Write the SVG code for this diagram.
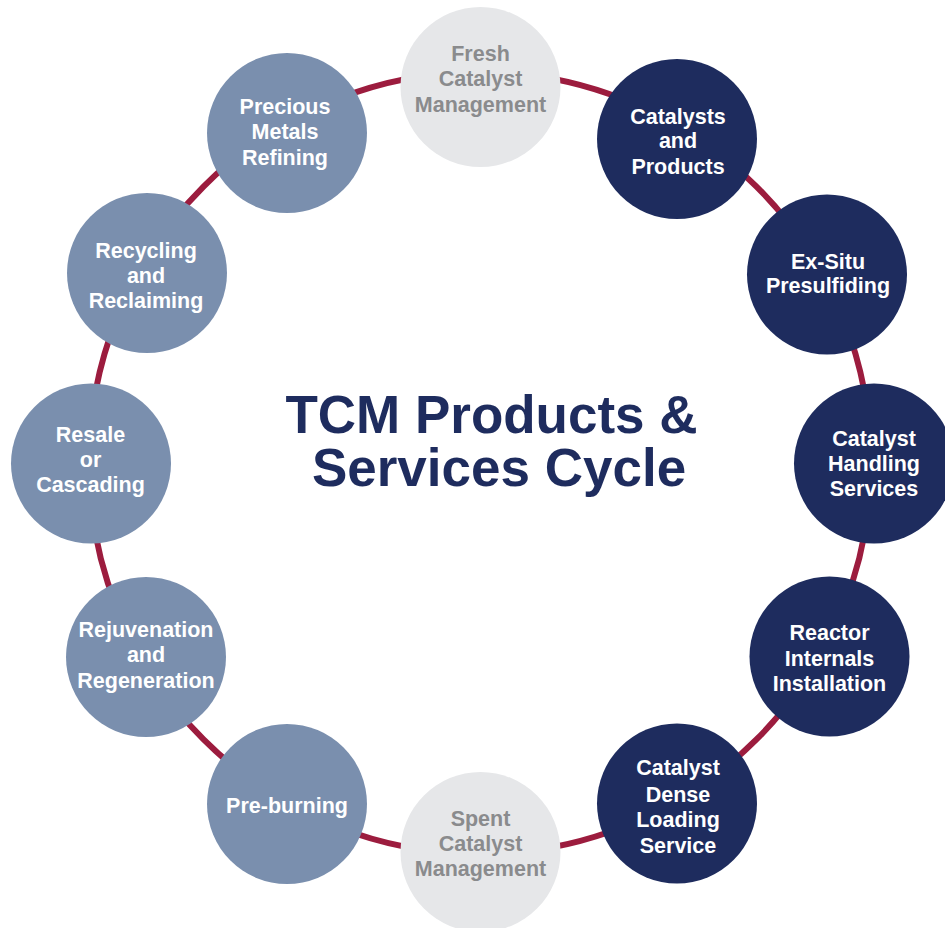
<svg xmlns="http://www.w3.org/2000/svg" width="945" height="928" viewBox="0 0 945 928">
<style>
.navy{fill:#1e2c5e}
.steel{fill:#7a8fae}
.pale{fill:#e6e7e9}
.lbl{font-family:"Liberation Sans",Arial,sans-serif;font-weight:bold;font-size:21.5px;text-anchor:middle;fill:#ffffff}
.lbl.grey{fill:#8a8b8d}
.title{font-family:"Liberation Sans",Arial,sans-serif;font-weight:bold;font-size:53px;text-anchor:middle;fill:#1e2c5e}
.ring{fill:none;stroke:#9c1c3e;stroke-width:6}
</style>
<rect width="945" height="928" fill="#ffffff"/>
<g id="connectors">
<circle class="ring" cx="480" cy="463" r="391"/>
</g>
<g id="fresh">
<circle class="pale" cx="480.5" cy="87" r="80"/>
<text class="lbl grey" x="480.5" y="61">Fresh</text>
<text class="lbl grey" x="480.5" y="86">Catalyst</text>
<text class="lbl grey" x="480.5" y="111.5">Management</text>
</g>
<g id="catalysts-products">
<circle class="navy" cx="677" cy="139" r="80"/>
<text class="lbl" x="678" y="123.5">Catalysts</text>
<text class="lbl" x="678" y="148">and</text>
<text class="lbl" x="678" y="173.5">Products</text>
</g>
<g id="ex-situ">
<circle class="navy" cx="827" cy="274.5" r="80"/>
<text class="lbl" x="828" y="268.5">Ex-Situ</text>
<text class="lbl" x="828" y="293">Presulfiding</text>
</g>
<g id="handling">
<circle class="navy" cx="874" cy="463.5" r="80"/>
<text class="lbl" x="874" y="446">Catalyst</text>
<text class="lbl" x="874" y="470.5">Handling</text>
<text class="lbl" x="874" y="496">Services</text>
</g>
<g id="reactor">
<circle class="navy" cx="829.5" cy="656.5" r="80"/>
<text class="lbl" x="829.5" y="640">Reactor</text>
<text class="lbl" x="829.5" y="666">Internals</text>
<text class="lbl" x="829.5" y="691">Installation</text>
</g>
<g id="dense-loading">
<circle class="navy" cx="677" cy="803.5" r="80"/>
<text class="lbl" x="678" y="775">Catalyst</text>
<text class="lbl" x="678" y="801.5">Dense</text>
<text class="lbl" x="678" y="826.5">Loading</text>
<text class="lbl" x="678" y="852.5">Service</text>
</g>
<g id="spent">
<circle class="pale" cx="480.5" cy="852" r="80"/>
<text class="lbl grey" x="480.5" y="826">Spent</text>
<text class="lbl grey" x="480.5" y="850.5">Catalyst</text>
<text class="lbl grey" x="480.5" y="876">Management</text>
</g>
<g id="pre-burning">
<circle class="steel" cx="287" cy="804" r="80"/>
<text class="lbl" x="287" y="812.5">Pre-burning</text>
</g>
<g id="rejuvenation">
<circle class="steel" cx="146" cy="657" r="80"/>
<text class="lbl" x="146" y="636.5">Rejuvenation</text>
<text class="lbl" x="146" y="661.5">and</text>
<text class="lbl" x="146" y="687.5">Regeneration</text>
</g>
<g id="resale">
<circle class="steel" cx="91" cy="463.5" r="80"/>
<text class="lbl" x="90.5" y="442">Resale</text>
<text class="lbl" x="90.5" y="467">or</text>
<text class="lbl" x="90.5" y="492">Cascading</text>
</g>
<g id="recycling">
<circle class="steel" cx="147" cy="273" r="80"/>
<text class="lbl" x="146" y="258">Recycling</text>
<text class="lbl" x="146" y="282.5">and</text>
<text class="lbl" x="146" y="308">Reclaiming</text>
</g>
<g id="precious">
<circle class="steel" cx="287" cy="133" r="80"/>
<text class="lbl" x="285" y="114">Precious</text>
<text class="lbl" x="285" y="139">Metals</text>
<text class="lbl" x="285" y="165">Refining</text>
</g>
<g id="title">
<text class="title"><tspan x="491.5" y="433">TCM Products &amp;</tspan><tspan x="499" y="486">Services Cycle</tspan></text>
</g>
</svg>
